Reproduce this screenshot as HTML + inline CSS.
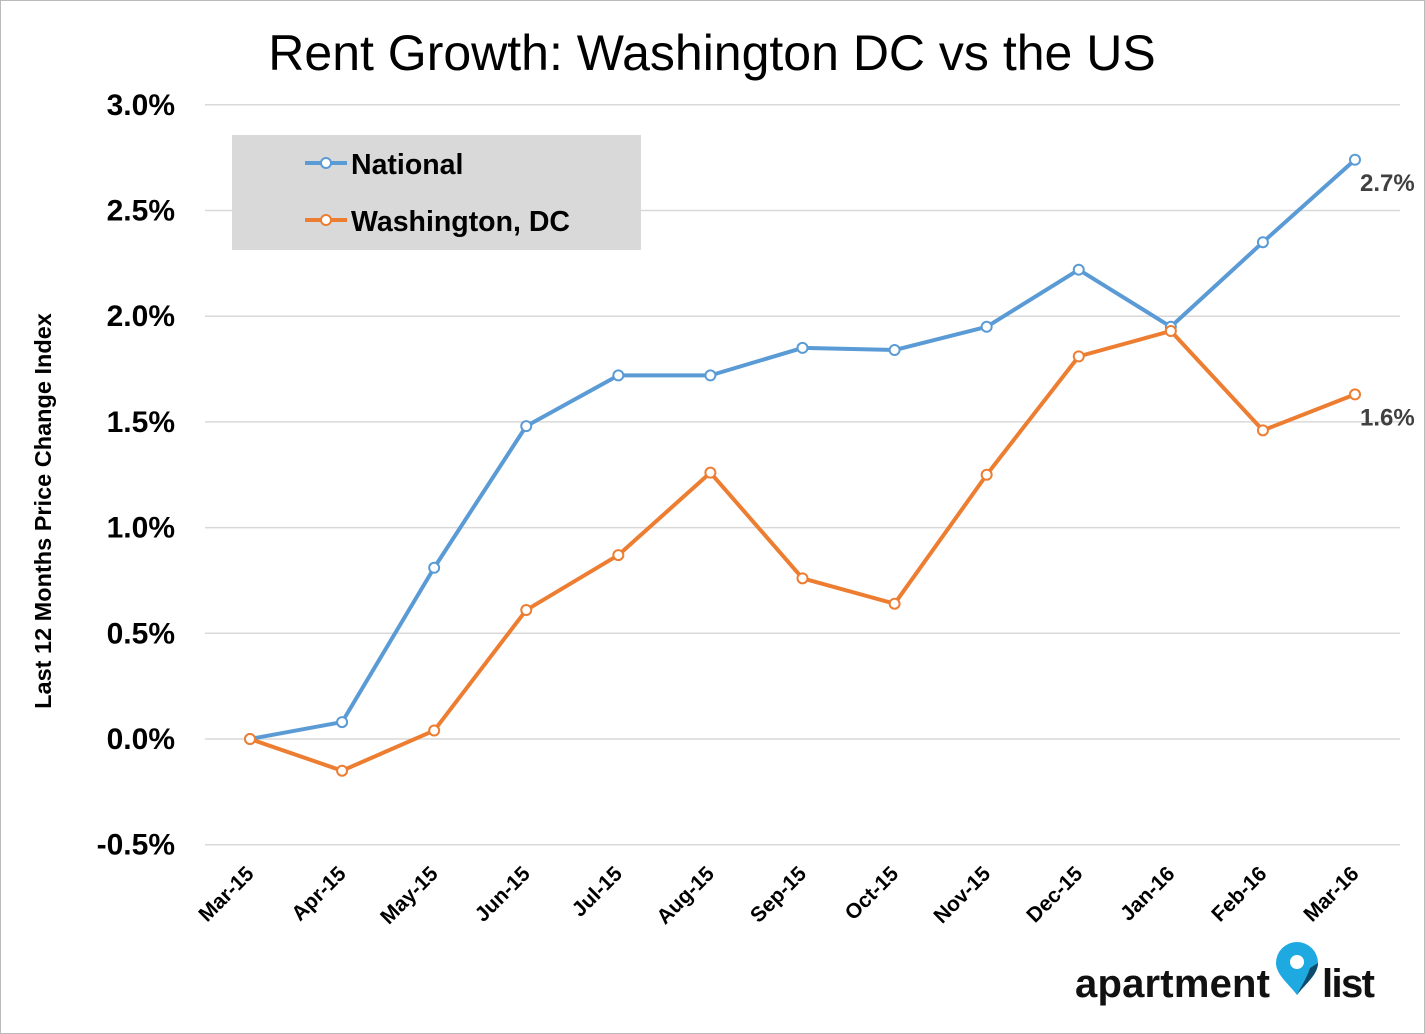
<!DOCTYPE html>
<html><head><meta charset="utf-8"><style>
body{margin:0;background:#fff;}
svg{display:block;font-family:"Liberation Sans",Arial,sans-serif;}
</style></head><body>
<svg id="chart" width="1425" height="1034">
<rect x="0.5" y="0.5" width="1424" height="1033" fill="#fff" stroke="#bbb"/>
<text x="712" y="70" text-anchor="middle" font-size="50" fill="#000">Rent Growth: Washington DC vs the US</text>
<text transform="translate(51,511) rotate(-90)" text-anchor="middle" font-size="23.5" font-weight="bold">Last 12 Months Price Change Index</text>
<g id="grid"></g><g id="xt"></g><g id="series"></g>
<g>
<rect x="232" y="135" width="409" height="115" fill="#d9d9d9"/>
<g>
<line x1="305" y1="163" x2="347" y2="163" stroke="#5b9bd5" stroke-width="4"/><circle cx="326" cy="163" r="5" fill="#fff" stroke="#5b9bd5" stroke-width="2"/>
<text x="351" y="174" font-size="28.5" font-weight="bold">National</text></g>
<g>
<line x1="305" y1="220" x2="347" y2="220" stroke="#ed7d31" stroke-width="4"/><circle cx="326" cy="220" r="5" fill="#fff" stroke="#ed7d31" stroke-width="2"/>
<text x="351" y="231" font-size="28.5" font-weight="bold">Washington, DC</text></g>
</g>
<g>
<text x="1075" y="997" font-size="40" font-weight="bold" fill="#111" textLength="195">apartment</text>
<path d="M1297,995 C1290,985 1276,975 1276,963 A21,21 0 0 1 1318,963 C1318,975 1304,985 1297,995Z" fill="#1fa9e1"/>
<path d="M1297,995 C1304,985 1318,975 1318,963 L1310,968 C1306,980 1300,988 1297,995Z" fill="#0d4a6b"/>
<circle cx="1297" cy="962" r="7" fill="#fff"/>
<text x="1322" y="997" font-size="40" font-weight="bold" fill="#111" textLength="53">list</text>
</g>
</svg>
<script>
const categories=["Mar-15","Apr-15","May-15","Jun-15","Jul-15","Aug-15","Sep-15","Oct-15","Nov-15","Dec-15","Jan-16","Feb-16","Mar-16"];
const nationalValues=[0,0.08,0.81,1.48,1.72,1.72,1.85,1.84,1.95,2.22,1.95,2.35,2.74];
const dcValues=[0,-0.15,0.04,0.61,0.87,1.26,0.76,0.64,1.25,1.81,1.93,1.46,1.63];
const yTicks=[-0.5,0,0.5,1,1.5,2,2.5,3];
const lastLabels=["2.7%","1.6%"];
const NS="http://www.w3.org/2000/svg";
function yS(v){return 739-v*211.4;}
function xS(i){return 250+i*(1355-250)/(categories.length-1);}
function mk(t,a,p){const e=document.createElementNS(NS,t);for(const k in a)e.setAttribute(k,a[k]);p.appendChild(e);return e;}
const grid=document.getElementById('grid');
yTicks.forEach(v=>{
 const l=mk('line',{x1:205,x2:1400,y1:yS(v),y2:yS(v),stroke:'#d9d9d9','stroke-width':1.5},grid);
 
 
 const t=mk('text',{x:175,y:yS(v)+10,'text-anchor':'end','font-size':30,'font-weight':'bold'},grid);
 t.textContent=v.toFixed(1)+'%';
 
 
});
const xt=document.getElementById('xt');
categories.forEach((c,i)=>{
 const t=mk('text',{transform:`translate(${xS(i)+5},${875}) rotate(-45)`,'text-anchor':'end','font-size':21,'font-weight':'bold'},xt);
 t.textContent=c;
 
 
});
const sg=document.getElementById('series');
[[nationalValues,'#5b9bd5','national'],[dcValues,'#ed7d31','washington-dc']].forEach(([vals,col,nm],si)=>{
 const p=mk('polyline',{points:vals.map((v,i)=>xS(i)+','+yS(v)).join(' '),fill:'none',stroke:col,'stroke-width':4,'stroke-linejoin':'round'},sg);
 
 
 vals.forEach((v,i)=>{
  const c=mk('circle',{cx:xS(i),cy:yS(v),r:5,fill:'#fff',stroke:col,'stroke-width':2},sg);
  
  
 });
 const n=vals.length-1;
 const t=mk('text',{x:xS(n)+5,y:yS(vals[n])+31,'font-size':24,'font-weight':'bold',fill:'#404040'},sg);
 t.textContent=lastLabels[si];
 
 
});
</script>
</body></html>
